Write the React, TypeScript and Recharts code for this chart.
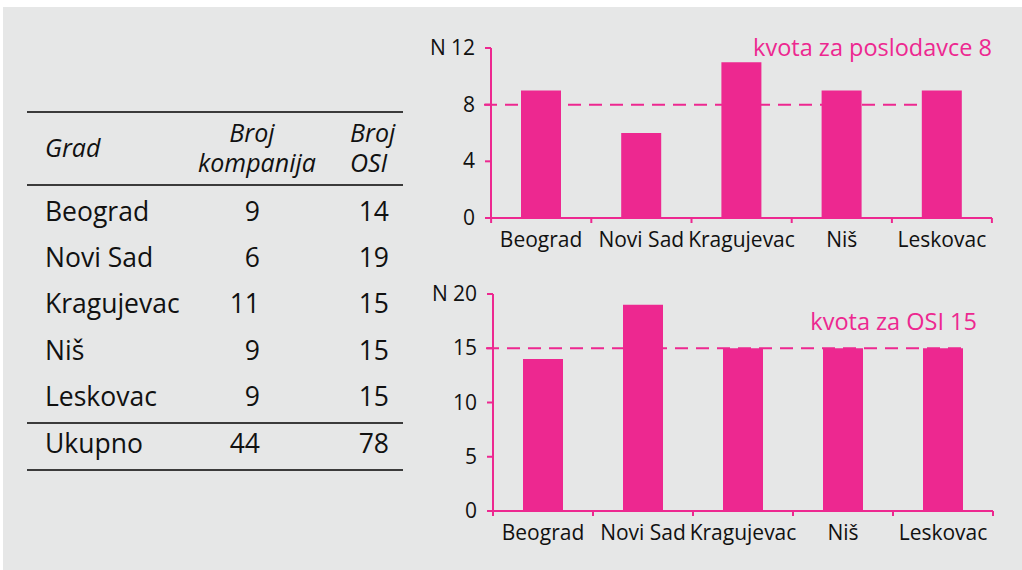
import React from 'react';
import { BarChart, Bar, XAxis, YAxis, ReferenceLine } from 'recharts';

const cities = ['Beograd', 'Novi Sad', 'Kragujevac', 'Niš', 'Leskovac'];
const companies = [9, 6, 11, 9, 9];
const osi = [14, 19, 15, 15, 15];
const totals = [44, 78];
const companyTicks = [0, 4, 8, 12];
const osiTicks = [0, 5, 10, 15, 20];
const companyQuota = 8;
const osiQuota = 15;

const PINK = '#ed2890';
const FONT = '"Open Sans", sans-serif';

const companyData = cities.map((name, i) => ({ name, value: companies[i] }));
const osiData = cities.map((name, i) => ({ name, value: osi[i] }));

// x tick: label at band centre, tick marks at band edges
const CityTick = (props: any) => {
  const { x, y, payload, index, visibleTicksCount } = props;
  const half = 50;
  return (
    <g>
      <line x1={x - half} x2={x - half} y1={y - 5} y2={y} stroke={PINK} strokeWidth={2} />
      {index === visibleTicksCount - 1 && (
        <line x1={x + half} x2={x + half} y1={y - 5} y2={y} stroke={PINK} strokeWidth={2} />
      )}
      <text x={x} y={y + 24} textAnchor="middle" fill="#111" fontSize={21} fontFamily={FONT}>
        {payload.value}
      </text>
    </g>
  );
};

const makeValueTick = (max: number) => (props: any) => {
  const { x, y, payload } = props;
  return (
    <g>
      <text x={x} y={y} dy={7} textAnchor="end" fill="#111" fontSize={21} fontFamily={FONT}>
        {payload.value}
      </text>
      {payload.value === max && (
        <text x={x - 45} y={y} dy={7} fill="#111" fontSize={21} fontFamily={FONT}>
          N
        </text>
      )}
    </g>
  );
};

const QuotaLine = (props: any) => {
  const { x1, x2, y1 } = props;
  return <line x1={x1 - 7} x2={x2 - 29} y1={y1} y2={y1} stroke={PINK} strokeWidth={2} strokeDasharray="13 8" />;
};

const quotaLabel = (text: string, dx: number, dy: number) => (props: any) => {
  const { viewBox } = props;
  return (
    <text x={viewBox.x + viewBox.width + dx} y={viewBox.y + dy} textAnchor="end" fill={PINK} fontSize={23.5} fontFamily={FONT}>
      {text}
    </text>
  );
};

interface ChartProps {
  data: { name: string; value: number }[];
  ticks: number[];
  quota: number;
  label: string;
  width: number;
  height: number;
  margin: { top: number; right: number; bottom: number; left: number };
  yWidth: number;
  labelDx: number;
  labelDy: number;
}

const QuotaChart: React.FC<ChartProps> = ({ data, ticks, quota, label, width, height, margin, yWidth, labelDx, labelDy }) => {
  const max = ticks[ticks.length - 1];
  return (
    <BarChart width={width} height={height} data={data} margin={margin}>
      <XAxis
        dataKey="name"
        axisLine={{ stroke: PINK, strokeWidth: 2 }}
        tickLine={false}
        tickSize={5}
        tickMargin={0}
        height={30}
        interval={0}
        tick={<CityTick />}
      />
      <YAxis
        domain={[0, max]}
        ticks={ticks}
        width={yWidth}
        axisLine={{ stroke: PINK, strokeWidth: 2 }}
        tickLine={{ stroke: PINK, strokeWidth: 2 }}
        tickSize={6}
        tickMargin={10}
        tick={makeValueTick(max)}
      />
      <Bar dataKey="value" fill={PINK} barSize={40} isAnimationActive={false} />
      <ReferenceLine y={quota} shape={<QuotaLine />} label={quotaLabel(label, labelDx, labelDy)} />
    </BarChart>
  );
};

const rowY = [211, 257, 303, 350, 396];

const App: React.FC = () => {
  const cell = (text: string | number, left: number, top: number, align: 'left' | 'right' | 'center', extra: React.CSSProperties = {}) => {
    const h = extra.lineHeight ? parseFloat(String(extra.lineHeight)) : 36;
    const pos: React.CSSProperties =
      align === 'left' ? { left } : align === 'right' ? { right: 1022 - left } : { left: left - 100, width: 200, textAlign: 'center' };
    return (
      <div
        style={{
          position: 'absolute',
          top: top - h / 2,
          height: h,
          lineHeight: '36px',
          whiteSpace: 'nowrap',
          ...pos,
          ...extra,
        }}
      >
        {text}
      </div>
    );
  };
  const rule = (top: number) => (
    <div style={{ position: 'absolute', left: 27, width: 376, top: top - 1, height: 2, background: '#3b3b3b' }} />
  );
  const head: React.CSSProperties = { fontStyle: 'italic', fontSize: 25, lineHeight: '26px' };
  return (
    <div style={{ position: 'fixed', left: 0, top: 0, width: 1022, height: 570, background: '#fff' }}>
      <div
        style={{
          position: 'absolute',
          left: 3,
          top: 7,
          width: 1019,
          height: 563,
          background: '#e6e7e7',
        }}
      />
      <div style={{ position: 'absolute', left: 0, top: 0, width: 1022, height: 570, fontFamily: FONT, fontSize: 26.5, color: '#111' }}>
        {rule(112)}
        {cell('Grad', 45, 147, 'left', head)}
        {cell('Broj', 252, 132, 'center', head)}
        {cell('kompanija', 257, 162, 'center', head)}
        {cell('Broj', 350, 132, 'left', head)}
        {cell('OSI', 350, 162, 'left', head)}
        {rule(185)}
        {cities.map((c, i) => (
          <React.Fragment key={c}>
            {cell(c, 45, rowY[i], 'left')}
            {cell(companies[i], 260, rowY[i], 'right')}
            {cell(osi[i], 389, rowY[i], 'right')}
          </React.Fragment>
        ))}
        {rule(423)}
        {cell('Ukupno', 45, 443, 'left')}
        {cell(totals[0], 260, 443, 'right')}
        {cell(totals[1], 389, 443, 'right')}
        {rule(470)}

        <div style={{ position: 'absolute', left: 420, top: 20 }}>
          <QuotaChart
            data={companyData}
            ticks={companyTicks}
            quota={companyQuota}
            label="kvota za poslodavce 8"
            width={600}
            height={240}
            margin={{ top: 28, right: 28, bottom: 12, left: 0 }}
            yWidth={71}
            labelDx={0}
            labelDy={-49}
          />
        </div>
        <div style={{ position: 'absolute', left: 420, top: 270 }}>
          <QuotaChart
            data={osiData}
            ticks={osiTicks}
            quota={osiQuota}
            label="kvota za OSI 15"
            width={600}
            height={280}
            margin={{ top: 24, right: 27, bottom: 9, left: 0 }}
            yWidth={73}
            labelDx={-16}
            labelDy={-18}
          />
        </div>
      </div>
    </div>
  );
};

export default App;
